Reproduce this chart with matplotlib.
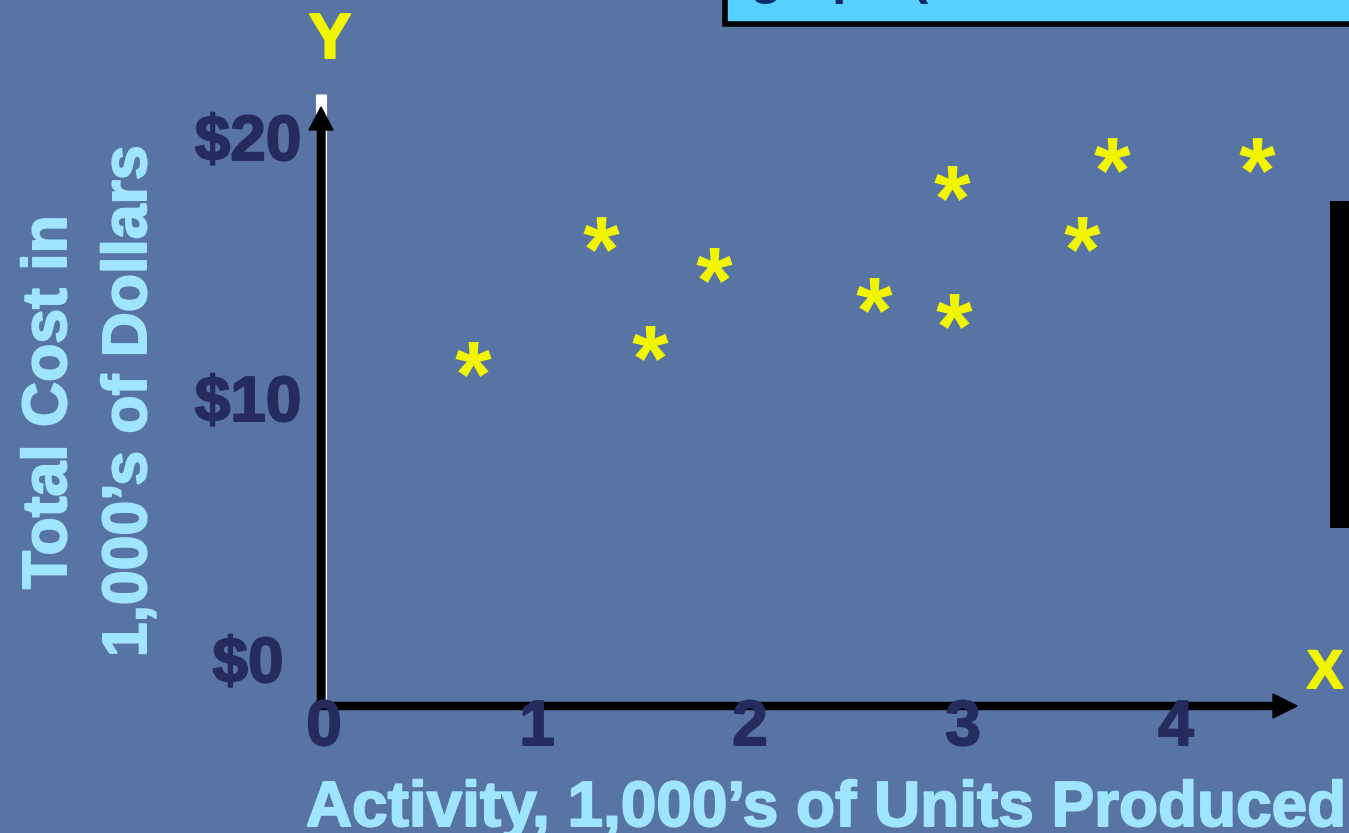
import matplotlib
matplotlib.use('Agg')
import numpy as np
import matplotlib.pyplot as plt
import matplotlib.patheffects as pe
from matplotlib.path import Path
from matplotlib.textpath import TextPath
from matplotlib.font_manager import FontProperties
from matplotlib.patches import Rectangle

# Dados (atividade em milhares de unidades, custo em milhares de $)
activity = [0.70, 1.30, 1.53, 1.83, 2.58, 2.95, 2.96, 3.56, 3.70, 4.38]
total_cost = [11.5, 16.3, 12.1, 15.1, 13.95, 18.25, 13.35, 16.3, 19.3, 19.3]
x_ticks = [0, 1, 2, 3, 4]
y_ticks = [0, 10, 20]
y_tick_labels = ['$0', '$10', '$20']

W, H = 1349, 833
BG = '#5874a5'
NAVY = '#252b5c'
CYAN = '#9fe5ff'
YELLOW = '#f2f500'
FONT = 'Liberation Sans'

# Escala: pixels por unidade
X0, SX = 324, 213.0
Y0, SY = 659, 26.1


def px2x(px):
    return (px - X0) / SX


def py2y(py):
    return (Y0 - py) / SY


def heavy(color, w=1.4):
    # engrossa um pouco o texto, como no slide original
    return [pe.withStroke(linewidth=w, foreground=color)]


fig = plt.figure(figsize=(W / 100, H / 100), dpi=100)
fig.patch.set_facecolor(BG)
ax = fig.add_axes([0, 0, 1, 1])
ax.set_facecolor(BG)
ax.set_xlim(px2x(0), px2x(W))
ax.set_ylim(py2y(H), py2y(0))
ax.axis('off')

# Marcador asterisco a partir do glifo (centrado)
fp = FontProperties(family=FONT, weight='bold')
polys = TextPath((0, 0), '*', size=10, prop=fp).to_polygons()
allv = np.vstack(polys)
c = (allv.min(axis=0) + allv.max(axis=0)) / 2
star = Path.make_compound_path(*[Path(p - c, closed=True) for p in polys])

ax.plot(activity, total_cost, linestyle='none', marker=star, markersize=26,
        color=YELLOW, markeredgewidth=0, zorder=5)

# Eixos com setas
ax.plot([px2x(321), px2x(321)], [py2y(700), py2y(94)], color='white',
        lw=8, solid_capstyle='butt', zorder=2)
ax.arrow(px2x(321), py2y(702), 0, py2y(107) - py2y(702), width=8 / SX,
         head_width=24 / SX, head_length=23 / SY, length_includes_head=True,
         color='black', zorder=3)
ax.arrow(px2x(317), py2y(706), px2x(1297) - px2x(317), 0, width=7 / SY,
         head_width=24 / SY, head_length=24 / SX, length_includes_head=True,
         color='black', zorder=3)

# Rótulos dos ticks
for t in x_ticks:
    ax.text(t, py2y(745), str(t), ha='center', va='baseline', fontsize=46,
            fontweight='bold', family=FONT, color=NAVY, zorder=6,
            path_effects=heavy(NAVY))
for t, lab in zip(y_ticks, y_tick_labels):
    ax.text(px2x(248), t + py2y(Y0 + 23), lab, ha='center', va='baseline',
            fontsize=46, fontweight='bold', family=FONT, color=NAVY, zorder=6,
            path_effects=heavy(NAVY))

# Títulos dos eixos
ax.text(px2x(66), py2y(402), 'Total Cost in', rotation=90, rotation_mode='anchor',
        ha='center', va='baseline', fontsize=45, fontweight='bold', family=FONT,
        color=CYAN, path_effects=heavy(CYAN))
ax.text(px2x(146), py2y(401), '1,000\u2019s of Dollars', rotation=90, rotation_mode='anchor',
        ha='center', va='baseline', fontsize=45, fontweight='bold', family=FONT,
        color=CYAN, path_effects=heavy(CYAN))
ax.text(px2x(826), py2y(826), 'Activity, 1,000\u2019s of Units Produced', ha='center',
        va='baseline', fontsize=46, fontweight='bold', family=FONT, color=CYAN,
        path_effects=heavy(CYAN))
ax.text(px2x(330), py2y(58), 'Y', ha='center', va='baseline', fontsize=46,
        fontweight='bold', family=FONT, color=YELLOW, path_effects=heavy(YELLOW))
ax.text(px2x(1325), py2y(688), 'X', ha='center', va='baseline', fontsize=39,
        fontweight='bold', family=FONT, color=YELLOW, path_effects=heavy(YELLOW))

# Caixa do título (cortada no topo) e caixa preta à direita
ax.add_patch(Rectangle((px2x(725), py2y(24)), px2x(1400) - px2x(725), py2y(-20) - py2y(24),
                       facecolor='#55d0ff', edgecolor='black', lw=4, zorder=4))
ax.text(px2x(750), py2y(-7), 'graph (Plot', ha='left', va='baseline', fontsize=38,
        fontweight='bold', family=FONT, color='#0d2a6b', zorder=5)
ax.add_patch(Rectangle((px2x(1330), py2y(528)), px2x(1360) - px2x(1330), py2y(201) - py2y(528),
                       facecolor='black', edgecolor='none', zorder=4))

plt.savefig('out.png', dpi=100, facecolor=BG)
